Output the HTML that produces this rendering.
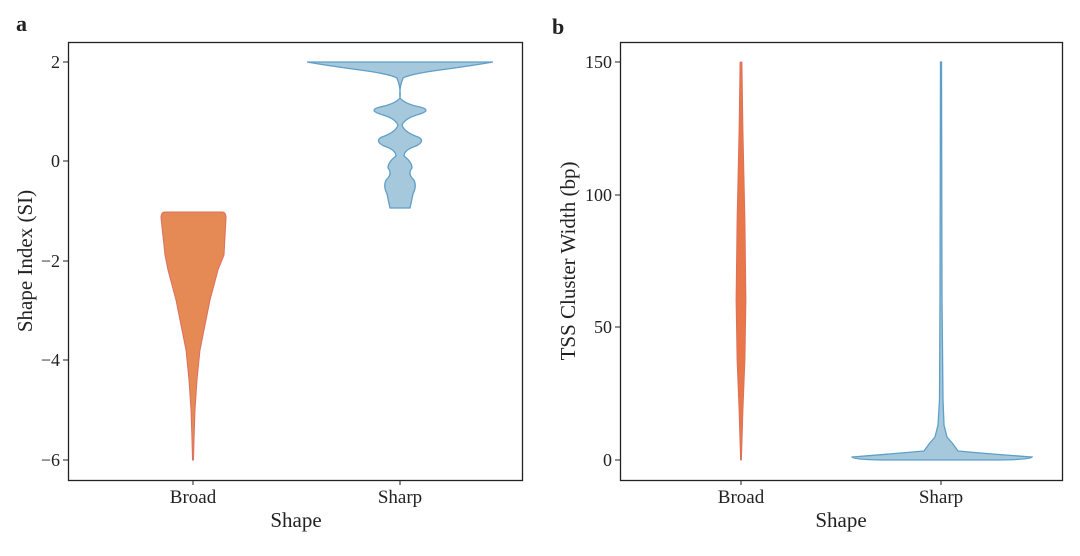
<!DOCTYPE html>
<html><head><style>body{margin:0;background:#fff}svg text{font-family:"Liberation Serif",serif;fill:#222}</style></head><body>
<svg width="1080" height="551" viewBox="0 0 1080 551">
<rect width="1080" height="551" fill="#fff"/>
<text x="16" y="31" font-size="22" font-weight="bold">a</text>
<text x="552" y="34" font-size="22" font-weight="bold">b</text>
<!-- panel a -->
<rect x="68.5" y="42.5" width="454" height="438" fill="none" stroke="#222" stroke-width="1.3"/>
<g font-size="18" text-anchor="end">
<line x1="63" x2="68" y1="62" y2="62" stroke="#222"/><text x="60" y="68">2</text>
<line x1="63" x2="68" y1="161" y2="161" stroke="#222"/><text x="60" y="167">0</text>
<line x1="63" x2="68" y1="261" y2="261" stroke="#222"/><text x="60" y="267">−2</text>
<line x1="63" x2="68" y1="360" y2="360" stroke="#222"/><text x="60" y="366">−4</text>
<line x1="63" x2="68" y1="460" y2="460" stroke="#222"/><text x="60" y="466">−6</text>
</g>
<line x1="193" x2="193" y1="480" y2="485" stroke="#222"/><line x1="400" x2="400" y1="480" y2="485" stroke="#222"/>
<text x="193" y="503" font-size="19" text-anchor="middle">Broad</text>
<text x="400" y="503" font-size="19" text-anchor="middle">Sharp</text>
<text x="296" y="527" font-size="21" text-anchor="middle">Shape</text>
<text transform="translate(32,261) rotate(-90)" font-size="21" text-anchor="middle">Shape Index (SI)</text>
<path d="M165,212 L222,212 Q226,212 226,218 L224,255 L218,270 L210,300 L205,325 L200,350 L197,380 L195,410 L194,440 L193.5,460 L192.5,460 L192,440 L191,410 L189,380 L186,350 L181,325 L176,300 L168,270 L165,255 L161,218 Q161,212 165,212 Z" fill="#e68a55" stroke="#dc6f60" stroke-width="1"/>
<path d="M307,62 L493,62 Q470,66 440,70 Q410,74 403,78 Q399,88 400,98 Q405,104 420,107 Q432,110 420,114 Q405,118 402,125 Q404,132 418,137 Q426,141 416,146 Q404,150 404,156 Q412,162 412,168 Q407,174 414,180 Q417,186 413,194 L410,208 L390,208 L387,194 Q383,186 386,180 Q393,174 388,168 Q388,162 396,156 Q396,150 384,146 Q374,141 382,137 Q396,132 398,125 Q395,118 380,114 Q368,110 380,107 Q395,104 400,98 Q401,88 397,78 Q390,74 360,70 Q330,66 307,62 Z" fill="#a5c8dc" stroke="#5f9fc7" stroke-width="1.3"/>
<!-- panel b -->
<rect x="620.5" y="42.5" width="442" height="438" fill="none" stroke="#222" stroke-width="1.3"/>
<g font-size="18" text-anchor="end">
<line x1="615" x2="620" y1="62" y2="62" stroke="#222"/><text x="612" y="68">150</text>
<line x1="615" x2="620" y1="195" y2="195" stroke="#222"/><text x="612" y="201">100</text>
<line x1="615" x2="620" y1="327" y2="327" stroke="#222"/><text x="612" y="333">50</text>
<line x1="615" x2="620" y1="460" y2="460" stroke="#222"/><text x="612" y="466">0</text>
</g>
<line x1="741" x2="741" y1="480" y2="485" stroke="#222"/><line x1="941" x2="941" y1="480" y2="485" stroke="#222"/>
<text x="741" y="503" font-size="19" text-anchor="middle">Broad</text>
<text x="941" y="503" font-size="19" text-anchor="middle">Sharp</text>
<text x="841" y="527" font-size="21" text-anchor="middle">Shape</text>
<text transform="translate(575,261) rotate(-90)" font-size="21" text-anchor="middle">TSS Cluster Width (bp)</text>
<path d="M740,62 L742,62 L743,130 L745,220 L746,300 L745,360 L743,410 L741.5,460 L740.5,460 L739,410 L737,360 L736,300 L737,220 L739,130 Z" fill="#e8774a" stroke="#dc6f60" stroke-width="0.8"/>
<path d="M940.5,62 L941.5,62 L942,300 L943,400 L944,425 L947,437 L953,444 L958,451 Q990,454 1032,457 Q1030,460 990,460 L892,460 Q852,460 852,457 Q890,454 924,451 L929,444 L935,437 L938,425 L939.5,400 L940,300 Z" fill="#a5c8dc" stroke="#5f9fc7" stroke-width="1.3"/>
</svg>
</body></html>
